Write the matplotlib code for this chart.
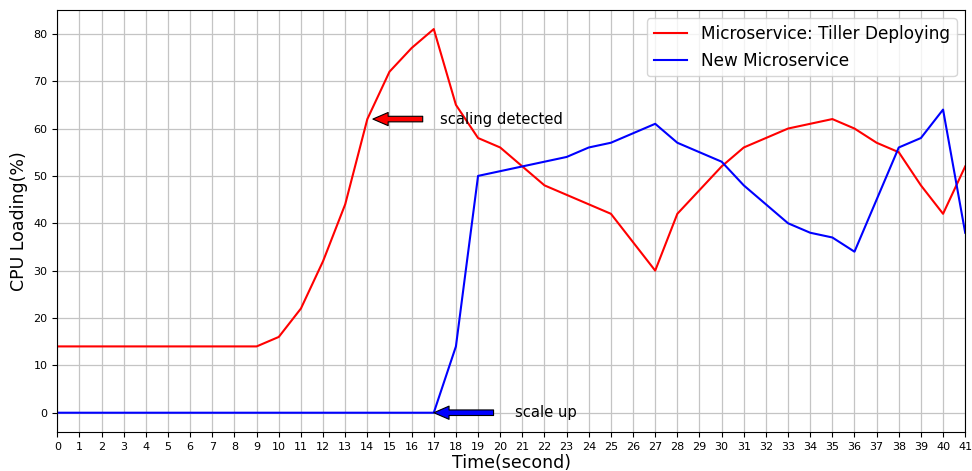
import numpy as np
import matplotlib
matplotlib.use("Agg")
import matplotlib.pyplot as plt

# time axis (seconds)
seconds = list(range(0, 42))

tiller_cpu = [14, 14, 14, 14, 14, 14, 14, 14, 14, 14,
              16, 22, 32, 44, 62, 72, 77, 81, 65, 58,
              56, 52, 48, 46, 44, 42, 36, 30, 42, 47,
              52, 56, 58, 60, 61, 62, 60, 57, 55, 48,
              42, 52]

new_cpu = [0, 0, 0, 0, 0, 0, 0, 0, 0, 0,
           0, 0, 0, 0, 0, 0, 0, 0, 14, 50,
           51, 52, 53, 54, 56, 57, 59, 61, 57, 55,
           53, 48, 44, 40, 38, 37, 34, 45, 56, 58,
           64, 38]

fig, ax = plt.subplots(figsize=(9.72, 4.71), dpi=100)

ax.plot(seconds, tiller_cpu, color="red", label="Microservice: Tiller Deploying")
ax.plot(seconds, new_cpu, color="blue", label="New Microservice")

# annotation arrows with the label set apart from the tail
arrow_style = dict(edgecolor="black", shrink=0, width=4,
                   headwidth=9.5, headlength=11, linewidth=0.8)
ax.annotate("", xy=(14.25, 62), xytext=(16.5, 62),
            arrowprops=dict(facecolor="red", **arrow_style))
ax.text(17.3, 62, "scaling detected", fontsize=10.6, va="center")
ax.annotate("", xy=(17, 0), xytext=(19.7, 0),
            arrowprops=dict(facecolor="blue", **arrow_style))
ax.text(20.68, 0, "scale up", fontsize=10.6, va="center")

ax.set_xlim(0, 41)
ax.set_xticks(seconds)
ax.tick_params(labelsize=8)
ax.grid(True, color="#c4c4c4", linewidth=0.9)
ax.set_xlabel("Time(second)", fontsize=12.5, labelpad=2)
ax.set_ylabel("CPU Loading(%)", fontsize=12.5)
ax.legend(loc="upper right", fontsize=12.2)

fig.subplots_adjust(left=0.059, right=0.993, top=0.979, bottom=0.083)
fig.savefig("out.png")
